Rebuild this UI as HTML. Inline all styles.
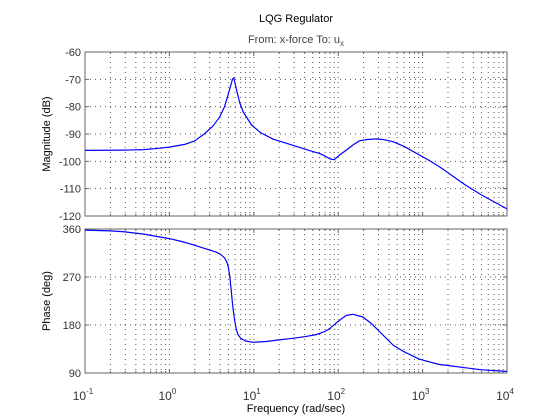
<!DOCTYPE html>
<html><head><meta charset="utf-8"><style>
body{margin:0;background:#fff;}
svg{display:block;font-family:"Liberation Sans",sans-serif;}
</style></head><body>
<svg id="c" width="560" height="420" xmlns="http://www.w3.org/2000/svg"></svg>
<script>
const freqs=[0.1,0.3,0.5,0.77,1,1.52,2,2.63,3.3,3.96,4.5,4.97,5.3,5.6,5.8,6.2,6.8,7.5,9.4,12,17,25,35,45,60,70,81,90,104,130,150,179,220,283,350,446,600,920,1200,1580,2000,3160,5000,10000];
const magDb=[-96,-95.9,-95.7,-95.2,-94.8,-93.8,-92.5,-89.8,-87,-83.7,-80,-75.5,-72.5,-70,-69.4,-73.5,-78.5,-82,-86.7,-89.5,-91.9,-93.5,-94.9,-96,-97.1,-98.1,-99.2,-99.4,-97.7,-95.5,-94,-92.5,-92,-91.8,-92.1,-92.8,-94.5,-97.7,-99.7,-102,-104.2,-108.5,-112.3,-117.4];
const phFreqs=[0.1,0.2,0.3,0.5,0.77,1,1.4,1.9,2.5,3,3.6,4,4.5,4.8,5.0,5.2,5.4,5.6,5.9,6.2,6.5,7,8,9.8,14,20,29,40,55,70,79,95,110,125,150,196,250,446,600,910,1200,1580,2000,3160,5000,10000];
const phaseDeg=[358,356.5,354.5,350.5,345,342,336.5,330.5,324.5,320.5,316.5,313,306,298,288,270,245,220,190,172,162,155,150,147.5,149,152,155,158,162,168,173,184,192,198,200,195,182,142.5,130,116,111,106,104,100,96,93];
const magTicks=[-60,-70,-80,-90,-100,-110,-120];
const phTicks=[360,270,180,90];
const decades=[-1,0,1,2,3,4];
const NS="http://www.w3.org/2000/svg";
const svg=document.getElementById('c');
const X0=85,X1=507;
const xs=f=>X0+(Math.log10(f)+1)/5*(X1-X0);
const topAx={y0:52,y1:216,min:-120,max:-60};
const botAx={y0:229,y1:373,min:90,max:360};
const ys=(ax,v)=>ax.y1-(v-ax.min)/(ax.max-ax.min)*(ax.y1-ax.y0);
function el(t,a,p){const e=document.createElementNS(NS,t);for(const k in a)e.setAttribute(k,a[k]);(p||svg).appendChild(e);return e;}
function axes(ax,ticks,name,label){
  const g=el('g',{});
  
  
  for(let d=-1;d<4;d++)for(let m=1;m<10;m++){
    const x=xs(m*Math.pow(10,d));
    if(m>1||d>-1){const l=el('line',{x1:x,x2:x,y1:ax.y0,y2:ax.y1,stroke:'#555','stroke-width':1,'stroke-dasharray':'1,4'},g);
    
    }
    el('line',{x1:x,x2:x,y1:ax.y1,y2:ax.y1-(m==1?4:2),stroke:'#666'},g);
    el('line',{x1:x,x2:x,y1:ax.y0,y2:ax.y0+(m==1?4:2),stroke:'#666'},g);
  }
  ticks.forEach(v=>{const y=ys(ax,v);
    if(v!=ax.min&&v!=ax.max){const l=el('line',{x1:X0,x2:X1,y1:y,y2:y,stroke:'#555','stroke-dasharray':'1,4'},g);
    
    }
    el('line',{x1:X0,x2:X0+4,y1:y,y2:y,stroke:'#666'},g);
    el('line',{x1:X1,x2:X1-4,y1:y,y2:y,stroke:'#666'},g);
    const t=el('text',{x:X0-4,y:y+4,'font-size':11,'text-anchor':'end',fill:'#333'},g);t.textContent=v;
    
    
  });
  const r=el('rect',{x:X0,y:ax.y0,width:X1-X0,height:ax.y1-ax.y0,fill:'none',stroke:'#666'},g);
  
  
  const cy=(ax.y0+ax.y1)/2;
  const t=el('text',{x:0,y:0,'font-size':11,'text-anchor':'middle',fill:'#000',transform:`translate(50,${cy}) rotate(-90)`},g);t.textContent=label;
  
  
}
axes(topAx,magTicks,'magnitude-axes','Magnitude (dB)');
axes(botAx,phTicks,'phase-axes','Phase (deg)');
function line(fa,va,ax,name){
  const d=fa.map((f,i)=>(i?'L':'M')+xs(f).toFixed(1)+','+ys(ax,va[i]).toFixed(1)).join('');
  const p=el('path',{d:d,fill:'none',stroke:'#0000ff','stroke-width':1.2,'stroke-linejoin':'round'});
  
  
}
line(freqs,magDb,topAx,'magnitude-line');
line(phFreqs,phaseDeg,botAx,'phase-line');
decades.forEach(d=>{
  const t=el('text',{x:xs(Math.pow(10,d))-2,y:400,'font-size':12,'text-anchor':'middle',fill:'#333'});
  
  
  t.appendChild(document.createTextNode('10'));
  const s=el('tspan',{dy:-6,'font-size':8},t);s.textContent=d;
});
function txt(x,y,s,name,fs){const t=el('text',{x:x,y:y,'font-size':fs||11,'text-anchor':'middle',fill:'#000'});t.textContent=s;
  
  
  return t;}
txt(296,412,'Frequency  (rad/sec)','x-axis-title');
txt(296,22,'LQG Regulator','chart-title');
const sub=el('text',{x:296,y:43,'font-size':11,'text-anchor':'middle',fill:'#444'});


sub.appendChild(document.createTextNode('From: x-force  To: u'));
const sb=el('tspan',{dy:3,'font-size':8},sub);sb.textContent='x';
</script>
</body></html>
